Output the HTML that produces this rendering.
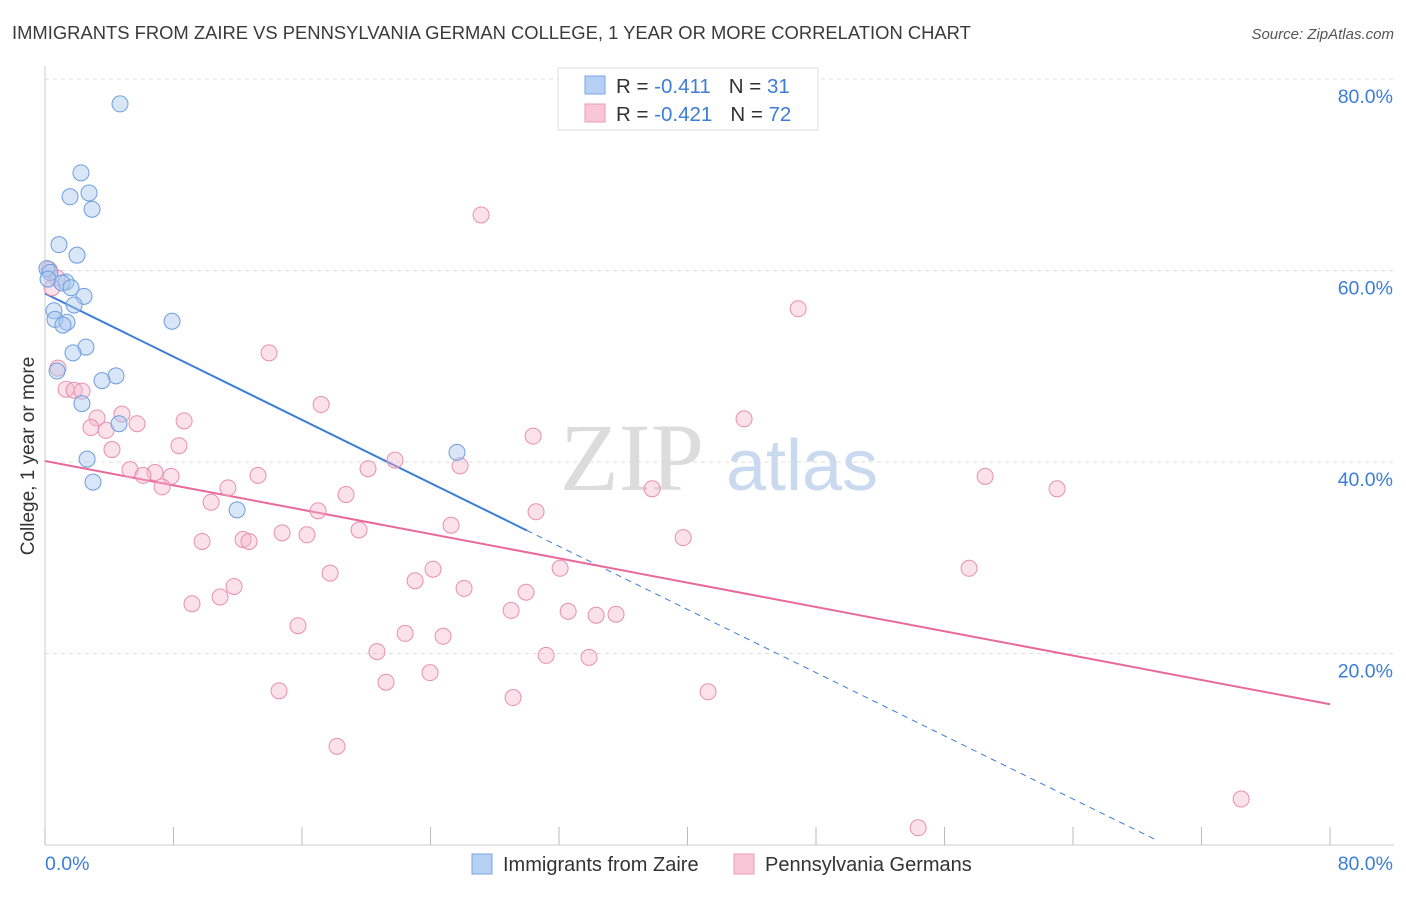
<!DOCTYPE html>
<html><head><meta charset="utf-8"><style>
body{margin:0;background:#fff;font-family:"Liberation Sans",sans-serif;}
svg text{font-family:"Liberation Sans",sans-serif;}
</style></head><body>
<svg id="chart" width="1406" height="892" viewBox="0 0 1406 892" xmlns="http://www.w3.org/2000/svg">
<text x="12" y="39" font-size="18.4" fill="#3a3a3a">IMMIGRANTS FROM ZAIRE VS PENNSYLVANIA GERMAN COLLEGE, 1 YEAR OR MORE CORRELATION CHART</text>
<text x="1394" y="39" font-size="15" fill="#555" text-anchor="end" font-style="italic">Source: ZipAtlas.com</text>
<g>
<text x="632" y="490" font-size="96" fill="#dcdcdc" text-anchor="middle" font-family="Liberation Serif" style="font-family:'Liberation Serif',serif">ZIP</text>
<text x="802" y="490" font-size="72" fill="#c9daf0" text-anchor="middle">atlas</text>
</g>
<g id="grid"></g>
<g id="axes"></g>
<g id="lines"></g>
<g id="points"></g>
<text x="34" y="456" font-size="19" fill="#333" text-anchor="middle" transform="rotate(-90 34 456)">College, 1 year or more</text>
<g>
<rect x="558" y="68" width="260" height="62" fill="#fff" stroke="#ddd"/>
<rect x="585" y="76" width="20" height="18" fill="#b5d0f3" stroke="#7aa6e4"/>
<text x="616" y="93" font-size="20.5" fill="#333">R = <tspan fill="#3b7dd8">-0.411</tspan><tspan dx="18">N = </tspan><tspan fill="#3b7dd8">31</tspan></text>
<rect x="585" y="104" width="20" height="18" fill="#f8c6d6" stroke="#eb9ab5"/>
<text x="616" y="121" font-size="20.5" fill="#333">R = <tspan fill="#3b7dd8">-0.421</tspan><tspan dx="18">N = </tspan><tspan fill="#3b7dd8">72</tspan></text>
</g>
<g>
<rect x="472" y="854" width="20" height="20" fill="#b5d0f3" stroke="#7aa6e4"/>
<text x="503" y="871" font-size="20" fill="#333">Immigrants from Zaire</text>
<rect x="734" y="854" width="20" height="20" fill="#f8c6d6" stroke="#eb9ab5"/>
<text x="765" y="871" font-size="20" fill="#333">Pennsylvania Germans</text>
</g>
</svg>
<script>
const blueX=[4.67,2.24,1.56,2.74,2.93,0.87,1.99,0.12,0.31,0.19,1.31,1.06,1.62,2.43,1.81,0.56,0.62,1.37,1.12,7.91,2.55,1.74,0.75,4.42,3.55,2.30,4.61,25.65,2.62,2.99,11.96];
const blueY=[77.4,70.2,67.7,68.1,66.4,62.7,61.6,60.2,59.8,59.1,58.8,58.7,58.2,57.3,56.4,55.8,54.9,54.6,54.3,54.7,52.0,51.4,49.5,49.0,48.5,46.1,44.0,41.0,40.3,37.9,35.0];
const pinkX=[0.25,0.75,0.44,27.15,46.89,13.95,0.81,1.31,1.81,2.30,17.19,4.79,3.24,8.66,43.52,5.73,2.86,3.80,30.39,8.34,4.17,21.79,25.84,5.29,6.85,20.11,7.85,6.10,13.26,7.29,11.39,58.53,63.01,37.80,18.74,10.34,17.00,30.57,25.28,19.55,39.73,9.78,12.33,12.70,14.76,16.31,32.07,24.16,57.53,17.75,23.04,26.09,11.77,29.95,10.90,9.15,29.02,32.57,34.31,35.55,15.75,22.42,24.78,20.67,31.20,33.87,23.97,21.23,14.57,41.28,29.14,18.18,74.47,54.36];
const pinkY=[60.1,59.2,58.2,65.8,56.0,51.4,49.8,47.6,47.5,47.4,46.0,45.0,44.6,44.3,44.5,44.0,43.6,43.3,42.7,41.7,41.3,40.2,39.6,39.2,38.9,39.3,38.5,38.6,38.6,37.4,37.3,38.5,37.2,37.2,36.6,35.8,34.9,34.8,33.4,32.9,32.1,31.7,31.9,31.7,32.6,32.4,28.9,28.8,28.9,28.4,27.6,26.8,27.0,26.4,25.9,25.2,24.5,24.4,24.0,24.1,22.9,22.1,21.8,20.2,19.8,19.6,18.0,17.0,16.1,16.0,15.4,10.3,4.8,1.8];
const yTicks=[20,40,60,80];
const yTickLabels=["20.0%","40.0%","60.0%","80.0%"];
const xTicks=[0,8,16,24,32,40,48,56,64,72,80];
const blueFit=[57.6,-0.825];
const pinkFit=[40.1,-0.3175];
const NS="http://www.w3.org/2000/svg";
const sx=v=>45+v*(1285/80);
const sy=v=>845-v*(766/80);
function mk(tag,attrs,parent){const e=document.createElementNS(NS,tag);for(const k in attrs)e.setAttribute(k,attrs[k]);document.getElementById(parent).appendChild(e);return e;}
yTicks.forEach((t,i)=>{
 const g=mk('line',{x1:45,x2:1394,y1:sy(t),y2:sy(t),stroke:'#ddd','stroke-dasharray':'4 4'},'grid');
 
 
 const tx=mk('text',{x:1393,y:sy(t)+24,'font-size':19.5,fill:'#3b7dd8','text-anchor':'end'},'axes');
 tx.textContent=yTickLabels[i];
 
 
});
const ax=mk('line',{x1:45,x2:45,y1:66,y2:845,stroke:'#ccc'},'axes');


const bx=mk('line',{x1:45,x2:1394,y1:845,y2:845,stroke:'#ccc'},'axes');


xTicks.forEach(t=>{
 const l=mk('line',{x1:sx(t),x2:sx(t),y1:827,y2:845,stroke:'#bbb'},'axes');
 
 
});
const xl0=mk('text',{x:45,y:870,'font-size':19.5,fill:'#3b7dd8'},'axes');xl0.textContent='0.0%';


const xl1=mk('text',{x:1393,y:870,'font-size':19.5,fill:'#3b7dd8','text-anchor':'end'},'axes');xl1.textContent='80.0%';


const bl=mk('line',{x1:sx(0),y1:sy(blueFit[0]),x2:sx(30),y2:sy(blueFit[0]+blueFit[1]*30),stroke:'#3b7dd8','stroke-width':2},'lines');


const bd=mk('line',{x1:sx(30),y1:sy(blueFit[0]+blueFit[1]*30),x2:sx(69.2),y2:sy(blueFit[0]+blueFit[1]*69.2),stroke:'#3b7dd8','stroke-width':1,'stroke-dasharray':'6 5'},'lines');


const pl=mk('line',{x1:sx(0),y1:sy(pinkFit[0]),x2:sx(80),y2:sy(pinkFit[0]+pinkFit[1]*80),stroke:'#e8699a','stroke-width':2},'lines');


pinkX.forEach((x,i)=>{
 const c=mk('circle',{cx:sx(x),cy:sy(pinkY[i]),r:8,fill:'rgba(246,180,202,0.4)',stroke:'#e98fae','stroke-width':1},'points');
 
 
});
blueX.forEach((x,i)=>{
 const c=mk('circle',{cx:sx(x),cy:sy(blueY[i]),r:8,fill:'rgba(169,200,240,0.45)',stroke:'#6e9de0','stroke-width':1},'points');
 
 
});
</script>
</body></html>
